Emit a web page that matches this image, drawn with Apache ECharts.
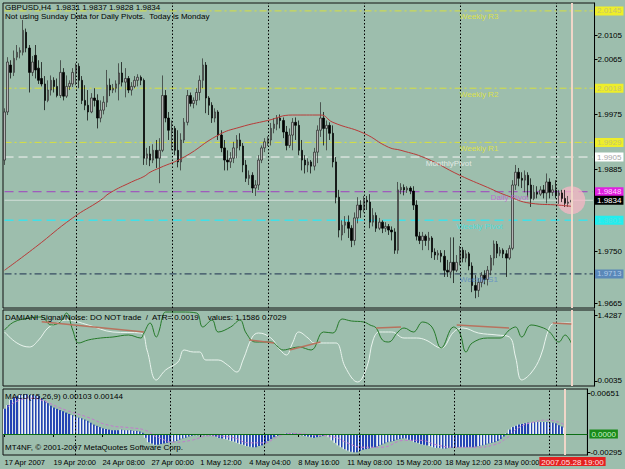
<!DOCTYPE html>
<html>
<head>
<meta charset="utf-8">
<script src="https://cdn.jsdelivr.net/npm/echarts@6.0.0/dist/echarts.min.js"></script>
<style>
html,body{margin:0;padding:0;background:#9dbead;}
#chart{width:625px;height:469px;}
</style>
</head>
<body>
<div id="chart"></div>
<script>
// H4 sessions on screen: [day, first hour, last hour]
var days = [
  ['17 Apr', 4, 20], ['18 Apr', 0, 20], ['19 Apr', 0, 20], ['20 Apr', 0, 20], ['22 Apr', 20, 20],
  ['23 Apr', 0, 20], ['24 Apr', 0, 20], ['25 Apr', 0, 20], ['26 Apr', 0, 20], ['27 Apr', 0, 20], ['29 Apr', 20, 20],
  ['30 Apr', 0, 20], ['1 May', 0, 20], ['2 May', 0, 20], ['3 May', 0, 20], ['4 May', 0, 20], ['6 May', 20, 20],
  ['7 May', 0, 20], ['8 May', 0, 20], ['9 May', 0, 20], ['10 May', 0, 20], ['11 May', 0, 20], ['13 May', 20, 20],
  ['14 May', 0, 20], ['15 May', 0, 20], ['16 May', 0, 20], ['17 May', 0, 20], ['18 May', 0, 20], ['20 May', 20, 20],
  ['21 May', 0, 20], ['22 May', 0, 20], ['23 May', 0, 20], ['24 May', 0, 20], ['25 May', 0, 20], ['27 May', 20, 20],
  ['28 May', 0, 16]
];
// empty slots for the chart shift on the right
var futureDays = [['28 May', 20, 20], ['29 May', 0, 20]];
var weekStarts = ['22 Apr 20:00', '29 Apr 20:00', '6 May 20:00', '13 May 20:00', '20 May 20:00', '27 May 20:00'];

// [open, close, low, high]
var candles = [
  [1.9900,1.9979,1.9892,1.9985],[1.9979,2.0061,1.9974,2.0069],[2.0056,2.0044,2.0034,2.0064],[2.0044,2.0067,2.0038,2.0080],
  [2.0069,2.0077,2.0064,2.0089],[2.0077,2.0080,2.0067,2.0085],[2.0077,2.0113,2.0072,2.0130],[2.0110,2.0084,2.0077,2.0116],
  [2.0084,2.0044,2.0011,2.0089],[2.0044,2.0061,2.0038,2.0071],[2.0072,2.0048,2.0034,2.0089],[2.0051,2.0031,2.0025,2.0064],
  [2.0034,2.0025,2.0021,2.0061],[2.0025,1.9998,1.9982,2.0038],[1.9998,2.0015,1.9995,2.0031],[2.0015,2.0031,2.0006,2.0039],
  [2.0031,2.0021,2.0011,2.0036],[2.0021,2.0006,2.0003,2.0034],[2.0006,2.0044,2.0002,2.0064],[2.0044,2.0005,1.9998,2.0051],
  [2.0005,2.0021,2.0002,2.0039],[2.0021,2.0026,2.0015,2.0031],[2.0025,2.0044,2.0020,2.0051],[2.0044,2.0056,2.0023,2.0059],
  [2.0054,2.0031,2.0018,2.0059],[2.0031,1.9998,1.9992,2.0038],[1.9998,1.9990,1.9982,2.0023],[1.9990,1.9979,1.9965,2.0015],
  [1.9979,2.0002,1.9977,2.0010],[2.0002,1.9998,1.9988,2.0018],[1.9998,1.9969,1.9952,2.0008],[1.9969,1.9982,1.9962,1.9998],
  [1.9982,1.9995,1.9975,2.0005],[1.9995,2.0023,1.9987,2.0048],[2.0023,2.0015,2.0005,2.0034],[2.0015,2.0018,2.0010,2.0025],
  [2.0018,2.0025,2.0011,2.0031],[2.0025,2.0043,1.9998,2.0059],[2.0043,2.0028,2.0021,2.0061],[2.0028,2.0034,2.0003,2.0051],
  [2.0034,2.0015,2.0010,2.0038],[2.0015,2.0021,2.0006,2.0028],[2.0021,2.0031,2.0018,2.0038],[2.0031,2.0036,2.0021,2.0041],
  [2.0036,2.0031,2.0023,2.0039],[2.0031,1.9903,1.9892,2.0034],[1.9903,1.9910,1.9892,1.9920],[1.9910,1.9900,1.9890,1.9923],
  [1.9900,1.9916,1.9895,1.9926],[1.9916,1.9903,1.9887,1.9933],[1.9903,1.9916,1.9862,1.9936],[1.9916,2.0006,1.9913,2.0039],
  [2.0006,1.9969,1.9962,2.0015],[1.9969,1.9949,1.9933,1.9979],[1.9949,1.9952,1.9916,1.9965],[1.9952,1.9916,1.9908,1.9956],
  [1.9916,1.9897,1.9888,1.9949],[1.9897,1.9933,1.9883,1.9944],[1.9933,1.9962,1.9928,1.9969],[1.9962,2.0006,1.9957,2.0015],
  [2.0006,1.9993,1.9988,2.0011],[1.9993,1.9998,1.9985,2.0003],[1.9998,2.0011,1.9990,2.0018],[2.0011,2.0031,1.9998,2.0039],
  [2.0031,2.0056,2.0018,2.0067],[2.0056,2.0002,1.9977,2.0061],[2.0002,1.9990,1.9974,2.0005],[1.9990,1.9969,1.9961,1.9995],
  [1.9969,1.9979,1.9962,1.9985],[1.9979,1.9941,1.9933,1.9982],[1.9941,1.9920,1.9913,1.9949],[1.9920,1.9900,1.9883,1.9933],
  [1.9900,1.9897,1.9883,1.9916],[1.9897,1.9903,1.9887,1.9913],[1.9903,1.9920,1.9895,1.9930],[1.9920,1.9933,1.9903,1.9941],
  [1.9933,1.9923,1.9916,1.9944],[1.9923,1.9892,1.9880,1.9928],[1.9892,1.9870,1.9864,1.9900],[1.9870,1.9875,1.9859,1.9883],
  [1.9875,1.9854,1.9846,1.9880],[1.9854,1.9859,1.9841,1.9867],[1.9859,1.9900,1.9851,1.9908],[1.9900,1.9920,1.9895,1.9924],
  [1.9920,1.9930,1.9913,1.9936],[1.9930,1.9933,1.9923,1.9939],[1.9933,1.9952,1.9924,1.9961],[1.9952,1.9959,1.9944,1.9969],
  [1.9959,1.9969,1.9949,1.9974],[1.9969,1.9965,1.9952,1.9975],[1.9965,1.9946,1.9936,1.9970],[1.9946,1.9924,1.9916,1.9956],
  [1.9924,1.9941,1.9920,1.9952],[1.9941,1.9962,1.9916,1.9969],[1.9962,1.9957,1.9933,1.9970],[1.9957,1.9916,1.9908,1.9965],
  [1.9916,1.9900,1.9883,1.9933],[1.9900,1.9892,1.9878,1.9908],[1.9892,1.9897,1.9880,1.9903],[1.9897,1.9890,1.9878,1.9900],
  [1.9890,1.9913,1.9883,1.9920],[1.9913,1.9949,1.9895,1.9957],[1.9949,1.9969,1.9938,1.9995],[1.9969,1.9952,1.9924,1.9979],
  [1.9952,1.9957,1.9916,1.9965],[1.9957,1.9944,1.9933,1.9962],[1.9944,1.9897,1.9888,1.9957],[1.9897,1.9839,1.9829,1.9905],
  [1.9839,1.9785,1.9773,1.9851],[1.9777,1.9793,1.9768,1.9801],[1.9793,1.9798,1.9780,1.9808],[1.9798,1.9788,1.9772,1.9809],
  [1.9788,1.9768,1.9757,1.9793],[1.9768,1.9805,1.9760,1.9814],[1.9805,1.9826,1.9796,1.9839],[1.9826,1.9818,1.9805,1.9834],
  [1.9818,1.9834,1.9814,1.9841],[1.9834,1.9831,1.9818,1.9841],[1.9831,1.9798,1.9788,1.9844],[1.9798,1.9809,1.9791,1.9821],
  [1.9809,1.9788,1.9782,1.9814],[1.9788,1.9798,1.9785,1.9805],[1.9798,1.9788,1.9780,1.9801],[1.9788,1.9791,1.9782,1.9798],
  [1.9791,1.9785,1.9777,1.9795],[1.9785,1.9782,1.9768,1.9791],[1.9782,1.9752,1.9746,1.9788],[1.9752,1.9851,1.9746,1.9864],
  [1.9851,1.9855,1.9844,1.9862],[1.9855,1.9851,1.9842,1.9860],[1.9851,1.9854,1.9846,1.9857],[1.9854,1.9849,1.9844,1.9857],
  [1.9849,1.9826,1.9818,1.9857],[1.9826,1.9775,1.9768,1.9834],[1.9775,1.9768,1.9762,1.9782],[1.9768,1.9775,1.9752,1.9782],
  [1.9775,1.9768,1.9759,1.9778],[1.9768,1.9772,1.9752,1.9782],[1.9772,1.9749,1.9739,1.9775],[1.9749,1.9744,1.9736,1.9755],
  [1.9744,1.9747,1.9736,1.9752],[1.9747,1.9742,1.9732,1.9752],[1.9742,1.9719,1.9708,1.9752],[1.9719,1.9716,1.9708,1.9736],
  [1.9716,1.9732,1.9706,1.9773],[1.9732,1.9719,1.9698,1.9773],[1.9719,1.9732,1.9716,1.9744],[1.9732,1.9752,1.9727,1.9759],
  [1.9752,1.9739,1.9732,1.9757],[1.9739,1.9746,1.9732,1.9752],[1.9746,1.9726,1.9719,1.9749],[1.9726,1.9694,1.9683,1.9732],
  [1.9694,1.9686,1.9673,1.9711],[1.9686,1.9699,1.9675,1.9706],[1.9699,1.9711,1.9691,1.9716],[1.9711,1.9704,1.9696,1.9719],
  [1.9704,1.9719,1.9694,1.9726],[1.9719,1.9739,1.9711,1.9744],[1.9739,1.9762,1.9727,1.9768],[1.9762,1.9747,1.9739,1.9767],
  [1.9747,1.9752,1.9742,1.9757],[1.9752,1.9746,1.9739,1.9755],[1.9746,1.9739,1.9708,1.9752],[1.9739,1.9755,1.9736,1.9760],
  [1.9755,1.9859,1.9752,1.9867],[1.9859,1.9880,1.9851,1.9892],[1.9880,1.9870,1.9857,1.9887],[1.9870,1.9867,1.9854,1.9880],
  [1.9867,1.9875,1.9847,1.9883],[1.9875,1.9859,1.9839,1.9880],[1.9859,1.9837,1.9823,1.9870],[1.9837,1.9847,1.9834,1.9859],
  [1.9847,1.9844,1.9837,1.9857],[1.9844,1.9851,1.9841,1.9857],[1.9851,1.9846,1.9837,1.9859],[1.9846,1.9864,1.9829,1.9878],
  [1.9864,1.9847,1.9837,1.9870],[1.9847,1.9851,1.9841,1.9859],[1.9851,1.9842,1.9837,1.9867],[1.9842,1.9846,1.9828,1.9851],
  [1.9846,1.9837,1.9831,1.9851],[1.9837,1.9829,1.9823,1.9851],[1.9829,1.9831,1.9823,1.9841],[1.9831,1.9834,1.9828,1.9837]
];

// red moving average, read at [bar index, price]
var maPoints = [[0,1.9719],[10,1.9757],[22,1.9805],[31,1.9834],[34,1.9846],[41,1.9864],[45,1.9873],[47,1.9880],
  [50,1.9887],[58,1.9905],[69,1.9941],[76,1.9954],[85,1.9965],[93,1.9974],[102,1.9974],[106,1.9962],[116,1.9944],
  [124,1.9921],[128,1.9916],[136,1.9903],[147,1.9875],[156,1.9855],[162,1.9842],[170,1.9829],[179,1.9826],[183,1.9824]];

var pivotNames = ['Weekly R3', 'Weekly R2', 'Weekly R1', 'MonthlyPivot', 'Daily Pivot', 'Weekly Pivot', 'Weekly S1'];
var pivotValues = [2.0145, 2.0018, 1.9929, 1.9905, 1.9848, 1.9801, 1.9713];
var priceTicks = [2.0105, 2.0065, 1.9975, 1.9885, 1.9750, 1.9665];

// DAMIANI Signal/Noise
var damGreen = [[0,1.1048],[3,1.2775],[8,1.3639],[12,1.3855],[15,1.2128],[18,1.2775],[20,1.4719],[22,1.1048],
  [24,0.8241],[27,0.8888],[31,0.9320],[35,0.9536],[40,0.9968],[44,0.9320],[45,1.0400],[47,1.2560],[49,0.9536],
  [50,1.1048],[51,1.3855],[52,1.4935],[57,1.4935],[62,1.4719],[64,1.1696],[67,1.3207],[69,1.0616],[73,1.1696],
  [76,1.3207],[78,1.0400],[81,0.8457],[86,0.8457],[90,0.6729],[93,0.7161],[95,0.7377],[99,0.6729],[103,1.0616],
  [106,1.0400],[109,1.3423],[112,1.2991],[116,1.2775],[118,1.2128],[120,1.1480],[122,0.8888],[124,0.8457],
  [127,1.0616],[129,1.1480],[132,1.0616],[135,1.2775],[138,1.1696],[141,0.7161],[145,1.1696],[147,1.0400],
  [149,0.6297],[151,0.8241],[156,0.9320],[160,0.9320],[163,1.1048],[165,1.1696],[167,0.9536],[170,1.2128],
  [174,1.1480],[176,1.0616],[179,0.8457],[181,0.9968],[183,0.8241]];
var damWhite = [[0,1.0616],[4,0.8241],[8,0.7377],[11,0.8888],[14,1.1480],[17,1.2560],[20,1.3207],[27,1.2128],
  [35,1.0616],[44,1.0400],[46,0.6729],[49,0.0251],[52,0.2410],[56,0.4138],[58,0.6729],[61,0.6297],[63,0.6297],
  [65,0.4570],[69,0.4570],[72,0.3490],[75,0.1978],[77,0.4570],[80,0.9536],[82,1.0400],[86,0.9320],[89,0.6729],
  [91,0.5649],[93,0.8241],[95,1.0616],[98,0.9320],[100,0.8241],[104,0.8241],[107,0.8241],[110,0.3058],
  [114,-0.0181],[117,0.3058],[119,0.8888],[121,1.0616],[125,1.0616],[129,0.9320],[133,0.9320],[136,0.8888],
  [141,0.7161],[145,1.0616],[148,1.1480],[153,1.0400],[159,0.9968],[163,0.9536],[165,0.5217],[167,0.0251],
  [170,0.1762],[173,0.5217],[176,1.1696],[178,1.2560],[183,1.2560]];
var damSignal = [[[12,1.2840],[45,1.0616]], [[79,0.8888],[87,0.8241]], [[92,0.6729],[102,0.8457]],
  [[120,1.1480],[128,1.1696]], [[146,1.2128],[163,1.1480]], [[177,1.2560],[183,1.2344]]];
var damTicks = [1.4287, 0.0035];

// MACD
var macdHist = [0.0040,0.0046,0.0054,0.0058,0.0060,0.0062,0.0063,0.0063,0.0062,0.0062,
  0.0061,0.0060,0.0057,0.0053,0.0049,0.0045,0.0042,0.0040,0.0038,0.0036,
  0.0034,0.0032,0.0030,0.0028,0.0026,0.0025,0.0023,0.0021,0.0018,0.0015,
  0.0013,0.0011,0.0009,0.0008,0.0007,0.0006,0.0006,0.0006,0.0007,0.0006,
  0.0006,0.0006,0.0005,0.0005,0.0004,0.0002,-0.0006,-0.0013,-0.0015,-0.0017,
  -0.0017,-0.0016,-0.0015,-0.0014,-0.0013,-0.0012,-0.0011,-0.0009,-0.0007,-0.0006,
  -0.0004,-0.0003,-0.0002,-0.0002,-0.0002,-0.0002,-0.0002,-0.0002,-0.0003,-0.0004,
  -0.0006,-0.0007,-0.0008,-0.0009,-0.0011,-0.0012,-0.0014,-0.0016,-0.0017,-0.0019,
  -0.0020,-0.0021,-0.0021,-0.0019,-0.0018,-0.0015,-0.0011,-0.0008,-0.0005,-0.0003,
  -0.0001,0.0000,0.0001,0.0001,0.0001,0.0001,0.0000,-0.0002,-0.0003,-0.0004,
  -0.0005,-0.0006,-0.0005,-0.0004,-0.0003,-0.0002,-0.0005,-0.0010,-0.0014,-0.0018,
  -0.0021,-0.0024,-0.0026,-0.0028,-0.0029,-0.0029,-0.0027,-0.0025,-0.0024,-0.0023,
  -0.0022,-0.0021,-0.0019,-0.0017,-0.0015,-0.0013,-0.0012,-0.0011,-0.0009,-0.0008,
  -0.0007,-0.0007,-0.0009,-0.0011,-0.0013,-0.0014,-0.0016,-0.0017,-0.0018,-0.0019,
  -0.0021,-0.0022,-0.0022,-0.0023,-0.0023,-0.0022,-0.0022,-0.0021,-0.0021,-0.0021,
  -0.0021,-0.0021,-0.0021,-0.0021,-0.0020,-0.0019,-0.0018,-0.0017,-0.0015,-0.0014,
  -0.0013,-0.0011,-0.0008,-0.0004,0.0001,0.0007,0.0011,0.0013,0.0015,0.0016,
  0.0017,0.0018,0.0018,0.0019,0.0019,0.0019,0.0019,0.0019,0.0018,0.0018,
  0.0017,0.0014,0.0012,0.00103];
var macdSignal = [[1,0.0043],[5,0.0054],[9,0.0057],[12,0.0054],[20,0.0038],[27,0.0027],[34,0.0014],[41,0.0010],
  [46,0.0006],[50,-0.0005],[56,-0.0013],[61,-0.0010],[67,-0.0003],[74,-0.0005],[80,-0.0014],[85,-0.0014],
  [89,-0.0005],[94,0.0001],[102,-0.0002],[108,-0.0005],[112,-0.0014],[117,-0.0021],[123,-0.0021],[131,-0.0010],
  [136,-0.0010],[141,-0.0017],[147,-0.0021],[154,-0.0021],[160,-0.0017],[164,-0.0007],[168,0.0010],[173,0.0019],
  [177,0.0022],[181,0.0019],[183,0.00144]];
var macdTicks = [0.00651, -0.00295];

var categories = [];
days.concat(futureDays).forEach(function (d) {
  for (var h = d[1]; h <= d[2]; h += 4) {
    categories.push(d[0] + ' ' + (h < 10 ? '0' : '') + h + ':00');
  }
});
var lastIdx = candles.length - 1;
var lastSlot = categories.length - 1;
var lastClose = candles[lastIdx][1];

var FONT = 'Liberation Sans';
var pivotLook = {
  'Weekly R3':    {line: '#d6e040', type: [7, 3, 2, 3], width: 1, text: '#eaea30', box: '#eeee2a', boxText: '#c4c470', at: 147},
  'Weekly R2':    {line: '#d6e040', type: [7, 3, 2, 3], width: 1, text: '#eaea30', box: '#eeee2a', boxText: '#c4c470', at: 147},
  'Weekly R1':    {line: '#d6e040', type: [7, 3, 2, 3], width: 1, text: '#eaea30', box: '#eeee2a', boxText: '#c4c470', at: 147},
  'MonthlyPivot': {line: '#f4f4f4', type: [9, 5], width: 1, text: '#f4f4f4', box: '#ffffff', boxText: '#a8a8a8', at: 136},
  'Daily Pivot':  {line: '#a040c0', type: [9, 5], width: 1, text: '#c458d8', box: '#e020e0', boxText: '#ffd0ff', at: 157},
  'Weekly Pivot': {line: '#40e0e8', type: [9, 5], width: 1.5, text: '#38e4e4', box: '#22eeee', boxText: '#55e0e0', at: 146},
  'Weekly S1':    {line: '#1c3050', type: [7, 3, 2, 3], width: 1, text: '#5a8ac8', box: '#5a88b8', boxText: '#b0cce8', at: 147}
};

function boxStyle(text, bg, fg) {
  return {show: true, distance: 2, formatter: text, backgroundColor: bg, color: fg,
    fontSize: 8, fontFamily: FONT, padding: [1, 2, 0, 2]};
}

// a horizontal level drawn across the whole main panel, with its price box on the axis
function levelSeries(value, lineStyle, bg, fg, z) {
  return {type: 'line', xAxisIndex: 0, yAxisIndex: 0, z: z, silent: true, symbol: 'none',
    data: [[0, value], [lastSlot, value]], lineStyle: lineStyle,
    endLabel: boxStyle(value.toFixed(4), bg, fg)};
}

function vLines(timeLabel) {
  var out = weekStarts.map(function (c) {
    return {xAxis: c, lineStyle: {color: '#000', type: [1.5, 2], width: 1}, label: {show: false}};
  });
  var now = {xAxis: categories[lastIdx], lineStyle: {color: '#f0d6c8', type: 'solid', width: 2}, label: {show: false}};
  if (timeLabel) {
    now.label = {show: true, position: 'start', distance: 2, offset: [8, 0], formatter: timeLabel,
      backgroundColor: '#e42020', color: '#ffe0e0', fontSize: 8, fontFamily: FONT, padding: [1, 2, 0, 2]};
  }
  out.push(now);
  return out;
}

function labelEvery(i) { return i % 16 === 0 && i <= 160; }
function xAx(gi, showLabels) {
  return {
    type: 'category', gridIndex: gi, data: categories, boundaryGap: true,
    axisLine: {show: false}, splitLine: {show: false},
    axisTick: showLabels ? {show: true, length: 3, alignWithLabel: true, interval: labelEvery, lineStyle: {color: '#000'}} : {show: false},
    axisLabel: showLabels ? {show: true, interval: labelEvery, align: 'left', margin: 3, color: '#000',
      fontSize: 7.5, fontFamily: FONT,
      formatter: function (v, i) { return i === 0 ? '17 Apr 2007' : v; }} : {show: false}
  };
}

function yAx(gi, min, max, ticks, digits) {
  return {
    type: 'value', gridIndex: gi, position: 'right', min: min, max: max,
    axisLine: {show: true, lineStyle: {color: '#000'}},
    axisTick: {show: true, length: 3, customValues: ticks, lineStyle: {color: '#000'}},
    axisLabel: {show: true, customValues: ticks, margin: 3, color: '#000', fontSize: 8, fontFamily: FONT,
      formatter: function (v) { return v.toFixed(digits); }},
    splitLine: {show: false}
  };
}

var stripe = new echarts.graphic.LinearGradient(0, 0, 1, 0, [
  {offset: 0, color: '#eef2fa'}, {offset: 0.4, color: '#eef2fa'},
  {offset: 0.4, color: '#2444b4'}, {offset: 1, color: '#2444b4'}
]);

var series = [];
pivotNames.forEach(function (n, i) {
  var lk = pivotLook[n];
  series.push(levelSeries(pivotValues[i], {color: lk.line, type: lk.type, width: lk.width}, lk.box, lk.boxText, 1));
});
series.push(levelSeries(lastClose, {color: '#d2dfda', type: 'solid', width: 1}, '#000000', '#ffffff', 1));
series.push(
  {type: 'candlestick', xAxisIndex: 0, yAxisIndex: 0, data: [], silent: true, z: 1,
    markLine: {silent: true, symbol: ['none', 'none'], animation: false, data: vLines(null)}},
  {type: 'scatter', xAxisIndex: 0, yAxisIndex: 0, z: 2, silent: true, symbolSize: 28,
    itemStyle: {color: 'rgba(250,182,198,0.92)'}, data: [[lastIdx, lastClose]]},
  {type: 'candlestick', xAxisIndex: 0, yAxisIndex: 0, z: 3, barWidth: 2, data: candles,
    itemStyle: {color: '#b4b4b4', color0: '#000000', borderColor: '#2a2a2a', borderColor0: '#000000', borderWidth: 0.7}},
  {type: 'line', xAxisIndex: 0, yAxisIndex: 0, z: 4, data: maPoints, smooth: 0.5, symbol: 'none',
    lineStyle: {color: '#b83a38', width: 1}},
  {type: 'scatter', xAxisIndex: 0, yAxisIndex: 0, z: 5, symbolSize: 0, silent: true,
    data: pivotNames.map(function (n, i) {
      return {value: [pivotLook[n].at, pivotValues[i]],
        label: {show: true, position: 'right', distance: 0, offset: [0, 6], formatter: n,
          color: pivotLook[n].text, fontSize: 8, fontFamily: FONT}};
    })},
  // DAMIANI
  {type: 'line', xAxisIndex: 1, yAxisIndex: 1, data: damWhite, smooth: 0.4, symbol: 'none', z: 3,
    lineStyle: {color: '#eaf4ee', width: 1},
    markLine: {silent: true, symbol: ['none', 'none'], animation: false, data: vLines(null)}},
  {type: 'line', xAxisIndex: 1, yAxisIndex: 1, data: damGreen, smooth: 0.4, symbol: 'none', z: 4,
    lineStyle: {color: '#267a2a', width: 1}}
);
damSignal.forEach(function (seg) {
  series.push({type: 'line', xAxisIndex: 1, yAxisIndex: 1, data: seg, symbol: 'none', z: 5,
    lineStyle: {color: '#b8725e', width: 1.5}});
});
series.push(
  {type: 'bar', xAxisIndex: 2, yAxisIndex: 2, data: macdHist, barWidth: '95%', z: 3,
    itemStyle: {color: stripe},
    markLine: {silent: true, symbol: ['none', 'none'], animation: false,
      data: [{yAxis: 0, lineStyle: {color: '#0c6e14', type: 'solid', width: 1},
        label: Object.assign(boxStyle('0.0000', '#1a8a1a', '#c8f0c8'), {position: 'end'})}].concat(vLines('2007.05.28 19:00'))}},
  {type: 'line', xAxisIndex: 2, yAxisIndex: 2, data: macdSignal, smooth: 0.5, symbol: 'none', z: 4,
    lineStyle: {color: '#c27ccc', type: [3, 2], width: 1}}
);

var txt = function (x, y, s) {
  return {type: 'text', left: x, top: y, z: 100, silent: true,
    style: {text: s, fill: '#000', fontSize: 8, fontFamily: FONT}};
};

var chart = echarts.init(document.getElementById('chart'), null, {renderer: 'svg'});
chart.setOption({
  animation: false,
  backgroundColor: '#9dbead',
  textStyle: {fontFamily: FONT},
  grid: [
    {left: 3, right: 30, top: 3, height: 305, show: true, borderColor: '#111', borderWidth: 1},
    {left: 3, right: 30, top: 310, height: 76, show: true, borderColor: '#111', borderWidth: 1},
    {left: 3, right: 30, top: 389, height: 66, show: true, borderColor: '#111', borderWidth: 1}
  ],
  xAxis: [xAx(0, false), xAx(1, false), xAx(2, true)],
  yAxis: [
    yAx(0, 1.9657, 2.0158, priceTicks, 4),
    yAx(1, -0.1045, 1.5367, damTicks, 4),
    yAx(2, -0.00333, 0.00715, macdTicks, 5)
  ],
  series: series,
  graphic: [
    txt(5, 3, 'GBPUSD,H4  1.9831 1.9837 1.9828 1.9834'),
    txt(5, 12, 'Not using Sunday Data for Daily Pivots.  Today is Monday'),
    txt(5, 313, 'DAMIANI Signal/Noise: DO NOT trade  /  ATR= 0.0019    values: 1.1586 0.7029'),
    txt(5, 392, 'MACD(15,26,9) 0.00103 0.00144'),
    txt(5, 443, 'MT4NF, \u00a9 2001-2007 MetaQuotes Software Corp.')
  ]
});
</script>
</body>
</html>
